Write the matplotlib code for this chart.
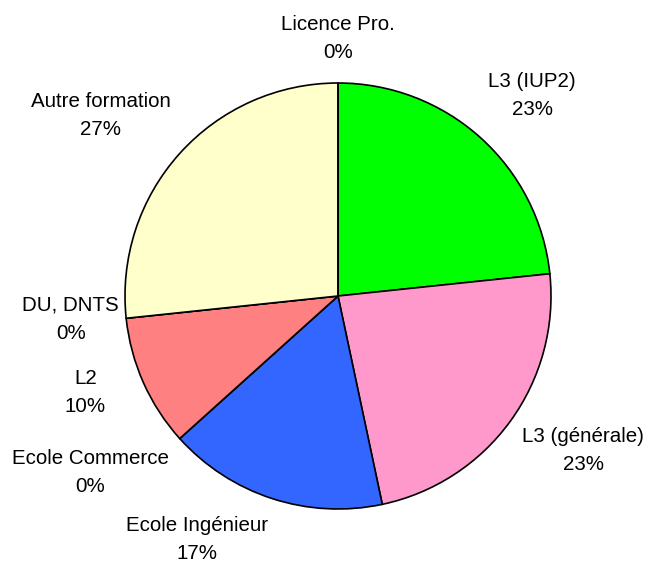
import matplotlib
matplotlib.use('Agg')
import matplotlib.pyplot as plt
import numpy as np

plt.rcParams['font.family'] = ['Liberation Sans', 'DejaVu Sans']

# donnees (effectifs)
categories = ['L3 (IUP2)', 'L3 (générale)', 'Ecole Ingénieur', 'Ecole Commerce',
              'L2', 'DU, DNTS', 'Autre formation', 'Licence Pro.']
effectifs = [7, 7, 5, 0, 3, 0, 8, 0]
couleurs = ['#00FF00', '#FF99CC', '#3366FF', '#FFFFFF',
            '#FF8080', '#FFFFFF', '#FFFFCC', '#FFFFFF']

# position des etiquettes (angle en degres, distance en rayons)
pos_etiquettes = [(45.9, 1.31), (-32.2, 1.36), (-120.0, 1.32), (-144.5, 1.43),
                  (-159.0, 1.27), (-175.0, 1.26), (142.7, 1.40), (90.0, 1.21)]

fig = plt.figure(figsize=(6.5, 5.66), dpi=100)
ax = fig.add_axes([(338 - 213) / 650, (270 - 213) / 566, 426 / 650, 426 / 566])

total = sum(effectifs)
wedges, texts = ax.pie(effectifs, colors=couleurs, startangle=90, counterclock=False,
                       wedgeprops=dict(edgecolor='black', linewidth=1.2))

for cat, val, (ang, dist) in zip(categories, effectifs, pos_etiquettes):
    a = np.deg2rad(ang)
    pct = round(100 * val / total)
    ax.text(dist * np.cos(a), dist * np.sin(a), f'{cat}\n{pct}%',
            ha='center', va='center', fontsize=14.8, linespacing=1.6)

ax.set_xlim(-1, 1)
ax.set_ylim(-1, 1)
ax.set_aspect('auto')
ax.axis('off')

fig.savefig('out.png', dpi=100)
